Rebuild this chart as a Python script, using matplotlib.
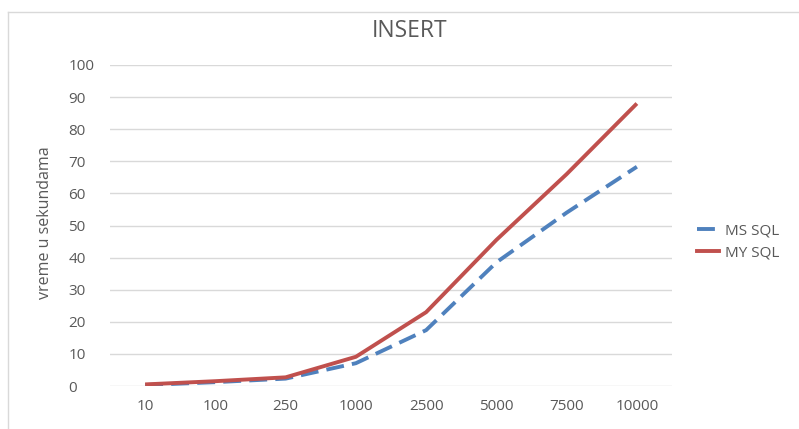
import matplotlib.pyplot as plt
from matplotlib.lines import Line2D

# podaci sa grafika
broj_redova = ['10', '100', '250', '1000', '2500', '5000', '7500', '10000']
ms_sql = [0.3, 1.2, 2.3, 7.1, 17.4, 38.5, 54.0, 68.3]
my_sql = [0.5, 1.5, 2.7, 9.1, 23.0, 45.5, 66.0, 88.0]
y_ticks = [0, 10, 20, 30, 40, 50, 60, 70, 80, 90, 100]

plt.rcParams['font.family'] = ['Open Sans', 'DejaVu Sans']
siva = '#595959'
plava = '#4F81BD'
crvena = '#C0504D'

fig = plt.figure(figsize=(7.99, 4.29), dpi=100)
ax = fig.add_axes([110 / 799, 43 / 429, 562 / 799, 321 / 429])

x = list(range(len(broj_redova)))
ax.plot(x, ms_sql, color=plava, lw=2.8, linestyle=(0, (4.6, 2.1)),
        solid_capstyle='butt', label='MS SQL', zorder=3)
ax.plot(x, my_sql, color=crvena, lw=2.8, label='MY SQL',
        solid_capstyle='butt', zorder=4)

ax.set_xlim(-0.5, len(broj_redova) - 0.5)
ax.set_ylim(0, 100)
ax.set_xticks(x)
ax.set_xticklabels(broj_redova)
ax.set_yticks(y_ticks)
ax.grid(axis='y', color='#d9d9d9', lw=1)
ax.set_axisbelow(True)
for s in ax.spines.values():
    s.set_visible(False)
ax.tick_params(length=0, labelsize=11, labelcolor=siva)
ax.tick_params(axis='x', pad=9)
ax.tick_params(axis='y', pad=30)
for t in ax.get_yticklabels():
    t.set_horizontalalignment('left')

fig.text(410 / 799, 1 - 31 / 429, 'INSERT', ha='center', va='center',
         fontsize=16.5, color=siva)
fig.text(45 / 799, 1 - 223 / 429, 'vreme u sekundama', rotation=90,
         ha='center', va='center', fontsize=11.5, color=siva)

handles = [Line2D([], [], color=plava, lw=2.8, linestyle=(0, (4.6, 1.5))),
           Line2D([], [], color=crvena, lw=2.8)]
leg = fig.legend(handles, ['MS SQL', 'MY SQL'], loc='center left',
                 bbox_to_anchor=(683 / 799, 1 - 242 / 429), frameon=False,
                 fontsize=11, handlelength=1.45, handletextpad=0.4,
                 labelspacing=0.45)
for t in leg.get_texts():
    t.set_color(siva)

# okvir grafika
fig.add_artist(Line2D([8 / 799, 8 / 799], [0, 1 - 12 / 429],
                      transform=fig.transFigure, color='#d9d9d9', lw=1))
fig.add_artist(Line2D([8 / 799, 1], [1 - 12 / 429, 1 - 12 / 429],
                      transform=fig.transFigure, color='#d9d9d9', lw=1))

fig.savefig('out.png', dpi=100)
